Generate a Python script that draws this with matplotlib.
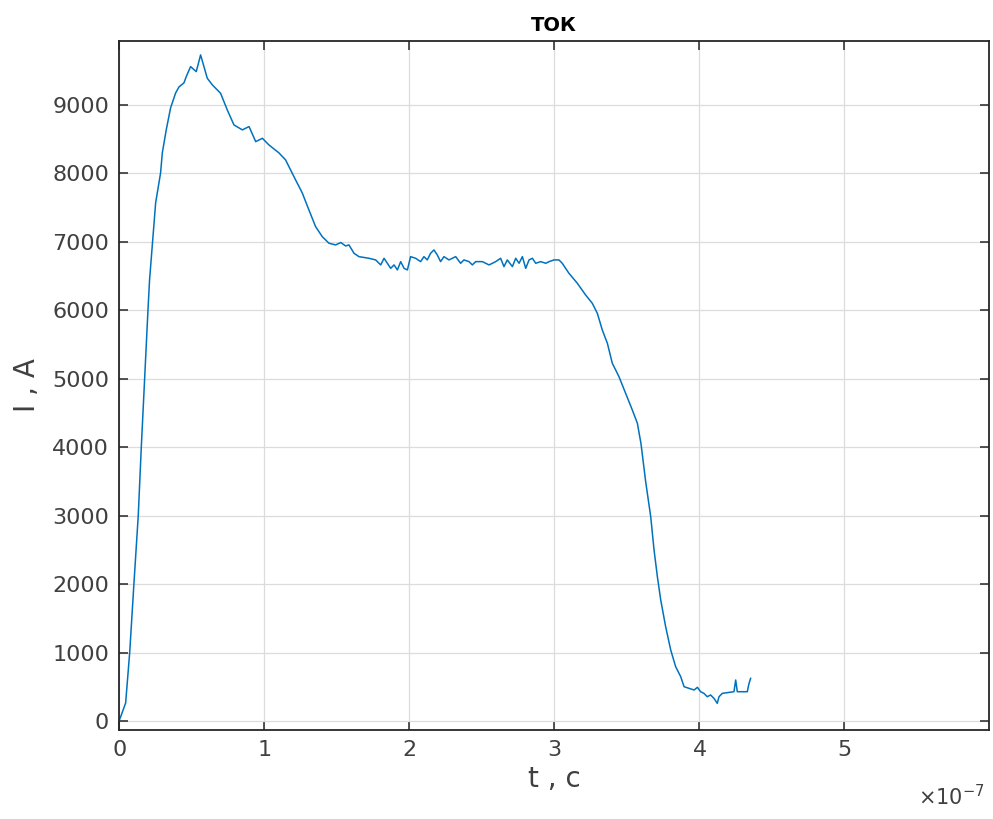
import numpy as np
import matplotlib
matplotlib.use("Agg")
import matplotlib.pyplot as plt  # noqa: E402
from matplotlib.ticker import ScalarFormatter  # noqa: E402

BLUE = "#0072BD"
AXC = "#262626"

# time in units of 1e-7 s, current in A
t_e7 = [0.000, 0.012, 0.046, 0.074, 0.103, 0.133, 0.154, 0.177, 0.200, 0.211,
        0.253, 0.287, 0.299, 0.326, 0.356, 0.391, 0.414, 0.448, 0.464, 0.494,
        0.533, 0.563, 0.586, 0.609, 0.644, 0.667, 0.701, 0.747, 0.793, 0.851,
        0.897, 0.943, 0.989, 1.034, 1.103, 1.149, 1.218, 1.264, 1.310, 1.356,
        1.402, 1.448, 1.494, 1.530, 1.563, 1.586, 1.621, 1.655, 1.724, 1.770,
        1.805, 1.828, 1.851, 1.874, 1.897, 1.920, 1.943, 1.966, 1.989, 2.011,
        2.046, 2.080, 2.103, 2.126, 2.149, 2.172, 2.195, 2.218, 2.241, 2.276,
        2.322, 2.356, 2.379, 2.414, 2.437, 2.460, 2.506, 2.552, 2.598, 2.632,
        2.655, 2.678, 2.713, 2.736, 2.759, 2.782, 2.805, 2.828, 2.851, 2.874,
        2.908, 2.943, 2.966, 3.000, 3.034, 3.057, 3.103, 3.161, 3.218, 3.264,
        3.299, 3.333, 3.368, 3.402, 3.448, 3.494, 3.540, 3.575, 3.600, 3.632,
        3.667, 3.690, 3.713, 3.736, 3.770, 3.805, 3.839, 3.874, 3.897, 3.931,
        3.966, 3.989, 4.011, 4.034, 4.057, 4.080, 4.103, 4.126, 4.138, 4.161,
        4.241, 4.253, 4.264, 4.333, 4.345, 4.356]
current = [0, 63, 263, 1000, 2000, 3000, 4000, 5000, 6000, 6444,
           7570, 8007, 8300, 8636, 8957, 9176, 9264, 9322, 9414, 9560,
           9487, 9731, 9560, 9390, 9293, 9244, 9170, 8927, 8708, 8636,
           8684, 8464, 8513, 8416, 8300, 8197, 7905, 7715, 7466, 7222,
           7076, 6980, 6955, 6990, 6940, 6955, 6833, 6784, 6760, 6736,
           6663, 6760, 6687, 6613, 6663, 6590, 6711, 6613, 6590, 6784,
           6760, 6711, 6784, 6736, 6833, 6882, 6809, 6711, 6784, 6736,
           6784, 6687, 6736, 6711, 6663, 6711, 6711, 6663, 6711, 6760,
           6638, 6736, 6638, 6760, 6687, 6784, 6613, 6736, 6760, 6687,
           6711, 6687, 6711, 6736, 6736, 6687, 6541, 6395, 6224, 6103,
           5955, 5713, 5519, 5227, 5031, 4788, 4544, 4350, 4050, 3500,
           2985, 2498, 2108, 1768, 1378, 1037, 793, 647, 501, 477,
           453, 492, 428, 404, 355, 380, 331, 258, 355, 404,
           428, 599, 428, 428, 550, 623]

x_ticks = [0, 1e-7, 2e-7, 3e-7, 4e-7, 5e-7]
y_ticks = [0, 1000, 2000, 3000, 4000, 5000, 6000, 7000, 8000, 9000]

plt.rcParams["font.family"] = ["DejaVu Sans"]

fig = plt.figure(figsize=(9.93, 8.19), dpi=100)
ax = fig.add_axes([0.1198, 0.1087, 0.8762, 0.8413])

ax.plot(np.array(t_e7) * 1e-7, current, color=BLUE, lw=1.1)

ax.set_xlim(0, 6e-7)
ax.set_ylim(-131, 9935)
ax.set_xticks(x_ticks)
ax.set_yticks(y_ticks)

fmt = ScalarFormatter(useMathText=True)
fmt.set_powerlimits((0, 0))
ax.xaxis.set_major_formatter(fmt)
# MATLAB puts the exponent lower, in the corner; draw it by hand
ax.xaxis.get_offset_text().set_visible(False)
fig.text(0.992, 0.012, r"$\times 10^{-7}$", ha="right", va="bottom",
         fontsize=15, color="#404040")

ax.grid(True, color="#dcdcdc", lw=0.9)
ax.set_axisbelow(True)
for s in ax.spines.values():
    s.set_color(AXC)
    s.set_linewidth(1.3)
ax.tick_params(direction="in", length=6.5, width=1.1, color=AXC,
               top=True, right=True, labelsize=16, labelcolor="#404040",
               pad=7)

ax.set_xlabel("t , с", fontsize=20, color="#404040", labelpad=4)
ax.set_ylabel("I , A", fontsize=20, color="#404040", labelpad=8)
ax.set_title("ТОК", fontsize=14, fontweight="bold", color="black", pad=7)

fig.savefig("out.png", dpi=100)
